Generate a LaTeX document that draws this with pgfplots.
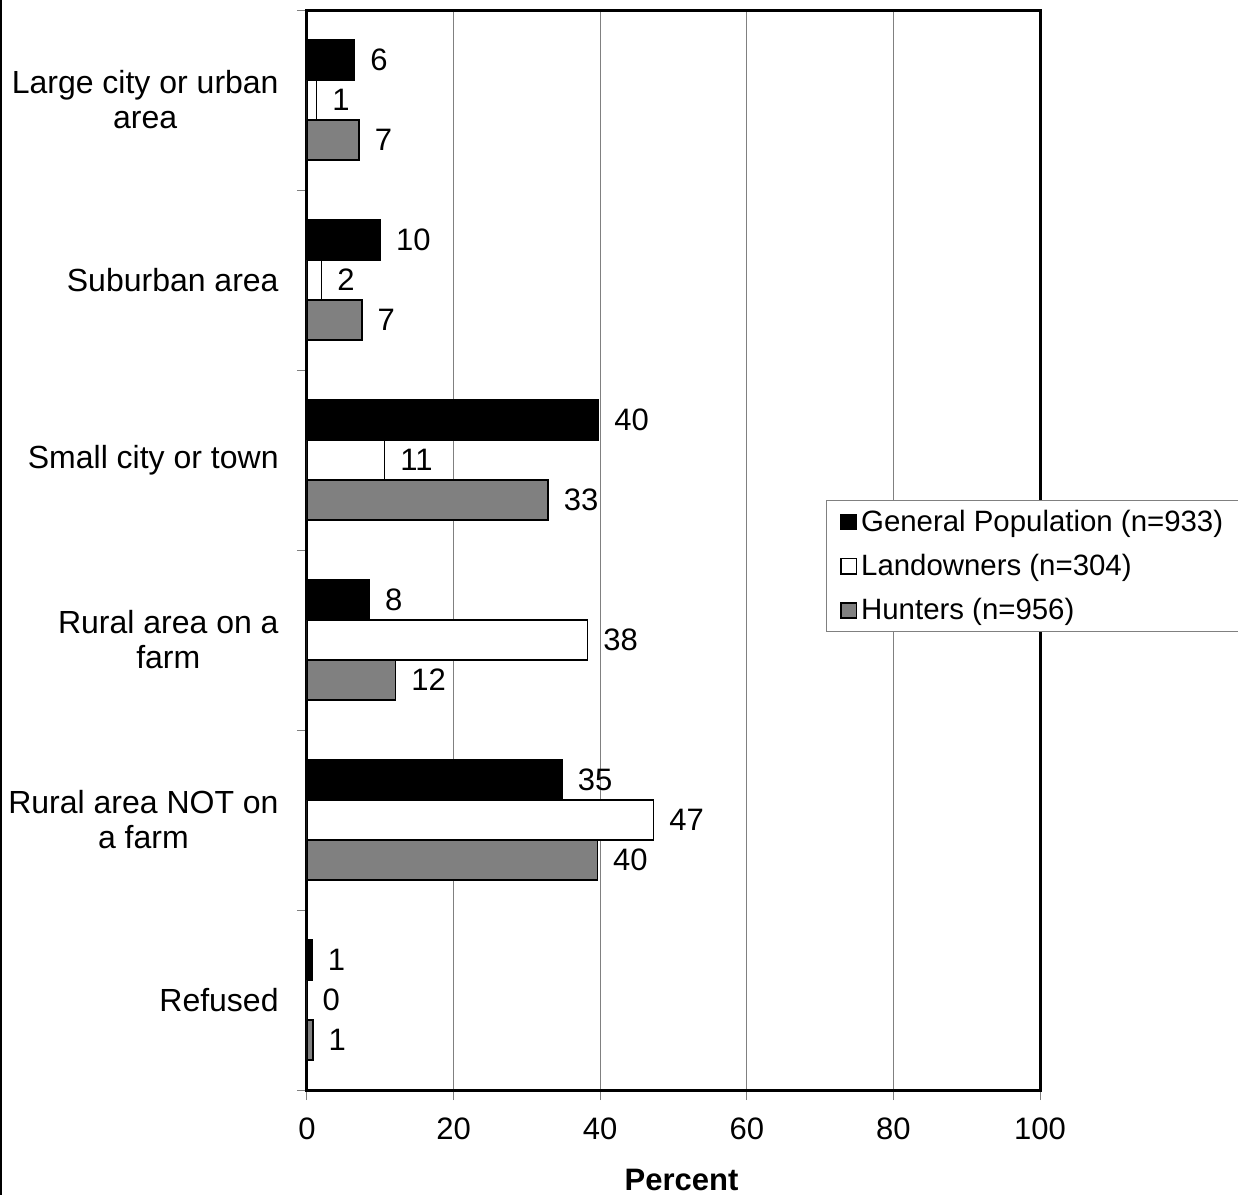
\documentclass[border=0pt]{standalone}
\usepackage{pgfplots}
\pgfplotsset{compat=1.18}
\usepackage{pgfplotstable}
\usepackage{fontspec}
\setmainfont{Liberation Sans}

\pgfplotstableread{
y gp gpl l ll h hl
0 6.5 6 1.3 1 7.1 7
1 10.0 10 2.0 2 7.5 7
2 39.8 40 10.6 11 32.9 33
3 8.5 8 38.3 38 12.1 12
4 34.8 35 47.3 47 39.6 40
5 0.7 1 0.0 0 0.8 1
}\datatable

\pgfplotsset{legsq/.style={legend image code/.code={\draw[##1, line width=0.75pt] (0pt,-3.8pt) rectangle (7.6pt,3.8pt);}}}

\begin{document}
\begin{tikzpicture}[font=\fontsize{15.5}{17.5}\selectfont]
\begin{axis}[
  at={(153.5pt,52.5pt)}, anchor=south west,
  scale only axis, width=366.5pt, height=540pt,
  xbar, xmin=0, xmax=100, ymin=-0.5, ymax=5.5, y dir=reverse,
  bar width=0.2222,
  xtick={0,20,...,100},
  /pgf/number format/assume math mode=true,
  xmajorgrids, grid style={draw=gray, line width=0.5pt},
  ytick={0,...,5},
  yticklabels={{Large city or urban\\area},{Suburban area},{Small city or town},{Rural area on a\\farm},{Rural area NOT on\\a farm},{Refused}},
  minor ytick={-0.5,0.5,...,5.5},
  major y tick style={draw=none},
  tick align=outside, xtick pos=bottom, ytick pos=left,
  major tick length=5pt, minor tick length=5pt,
  tick style={draw=gray, line width=0.5pt},
  axis line style={line width=1.5pt},
  yticklabel style={align=center, inner sep=0pt, xshift=-9pt, font=\fontsize{16}{17.5}\selectfont},
  xticklabel style={inner sep=0pt, yshift=-8.5pt, font=\fontsize{15.5}{17.5}\selectfont},
  xlabel={\textbf{Percent}},
  xlabel style={at={(rel axis cs:0.5,0)}, anchor=base, yshift=-50pt, xshift=4pt, font=\fontsize{15.5}{17.5}\selectfont},
  point meta=explicit symbolic,
  nodes near coords,
  every node near coord/.append style={anchor=west, inner sep=0pt, xshift=7.5pt, black, font=\fontsize{15.5}{17.5}\selectfont},
  legend style={at={(rel axis cs:0.708,0.546)}, anchor=north west, draw=gray, line width=0.5pt,
    inner xsep=7pt, inner ysep=2.5pt, row sep=6pt, font=\fontsize{14.7}{16}\selectfont,
    /tikz/every even column/.append style={column sep=1pt}},
  legend cell align=left,
]
\addplot[legsq, draw=black, line width=0.75pt, fill=black, bar shift=-0.2222] table[x=gp, y=y, meta=gpl] {\datatable};
\addplot[legsq, draw=black, line width=0.75pt, fill=white, bar shift=0] table[x=l, y=y, meta=ll] {\datatable};
\addplot[legsq, draw=black, line width=0.75pt, fill=gray, bar shift=0.2222] table[x=h, y=y, meta=hl] {\datatable};
\legend{General Population (n=933)\hspace{14pt}, Landowners (n=304), Hunters (n=956)}
\end{axis}
\draw[line width=1.2pt] (0.6pt,0) -- (0.6pt,597.5pt);
\pgfresetboundingbox
\path[use as bounding box] (0,0) rectangle (619pt,597.5pt);
\end{tikzpicture}
\end{document}
